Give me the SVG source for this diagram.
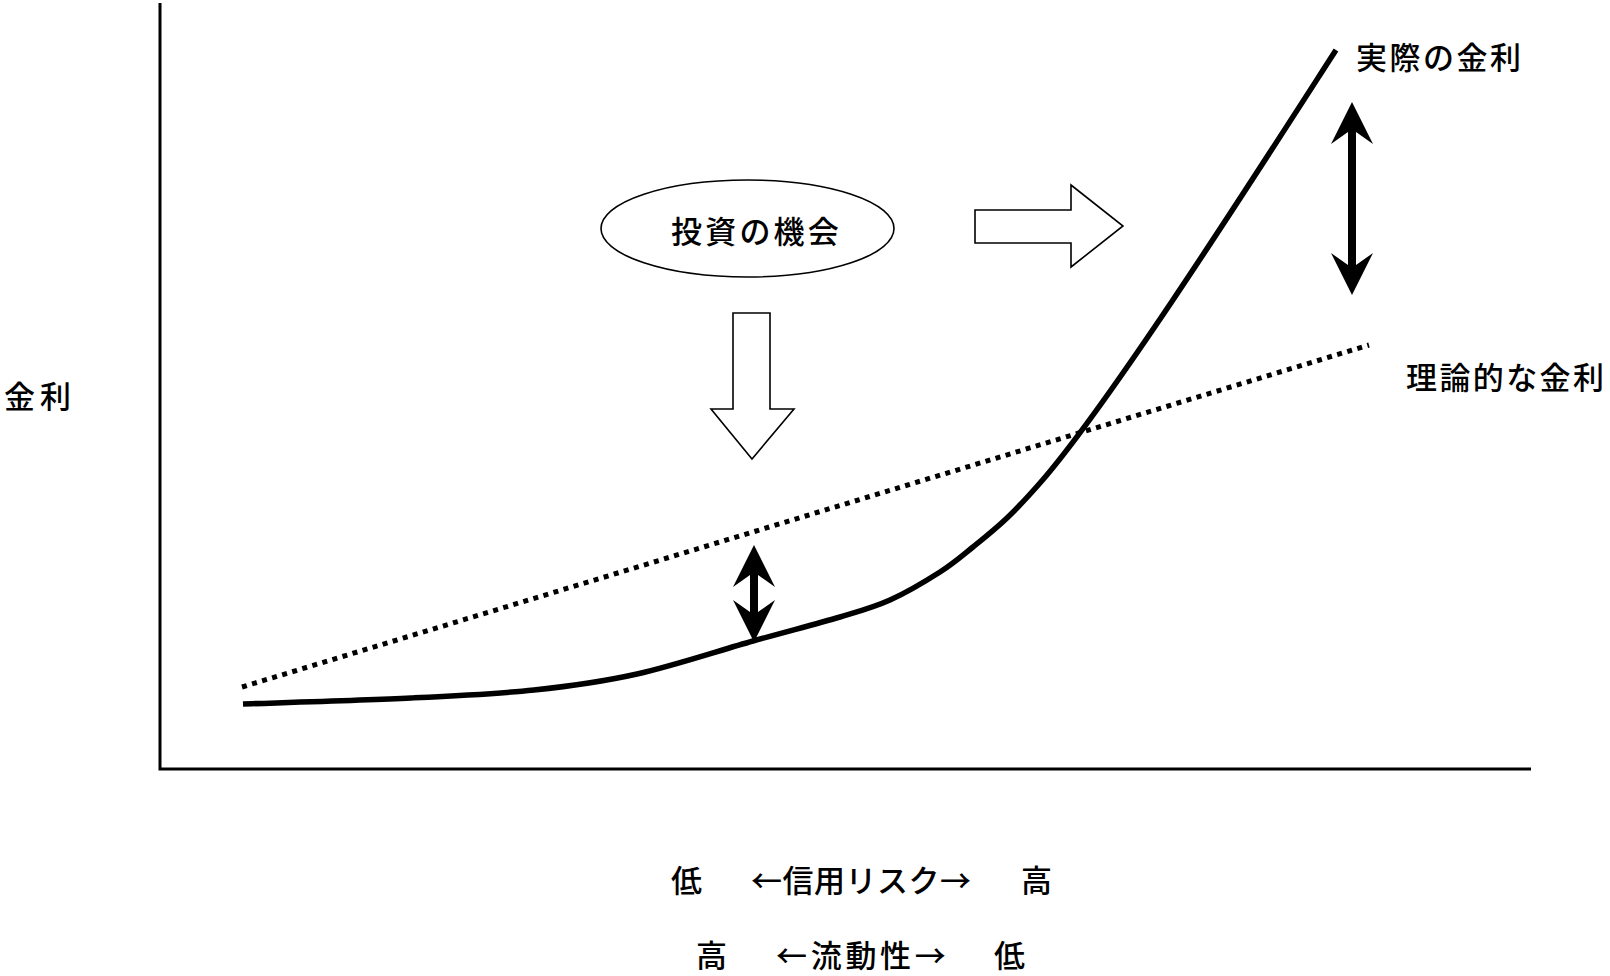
<svg xmlns="http://www.w3.org/2000/svg" width="1610" height="976" viewBox="0 0 1610 976">
<style>
text{font-family:"Noto Sans CJK JP","Noto Sans",sans-serif;font-size:31px;font-weight:500;fill:#000;dominant-baseline:central}
.axis{stroke:#000;stroke-width:3;fill:none}
.block{fill:#fff;stroke:#000;stroke-width:1.6;stroke-linejoin:miter}
.dbl{fill:#000;stroke:none}
</style>
<rect width="1610" height="976" fill="#fff"/>
<g id="axes">
<path class="axis" d="M160,3 L160,769 L1531,769"/>
</g>
<g id="connectors">
<path id="theory-line" d="M242,687 L1369,345" stroke="#000" stroke-width="5" stroke-dasharray="5 5.5" fill="none"/>
<path id="actual-curve" d="M243,704 C271,703 362.5,700.3 411,698 C459.5,695.7 496.3,694 534,690 C571.7,686 600.5,682.2 637,674 C673.5,665.8 719.2,650.5 753,641 C786.8,631.5 817.2,623.8 840,617 C862.8,610.2 873.3,607.5 890,600 C906.7,592.5 926.2,580.8 940,572 C953.8,563.2 961.8,556 973,547 C984.2,538 995.8,528.7 1007,518 C1018.2,507.3 1029,495.5 1040,483 C1110,403 1256,174 1336,50" stroke="#000" stroke-width="5.5" fill="none" stroke-linejoin="round"/>
<path id="big-double-arrow" class="dbl" d="M1352,102 L1373,144 L1356,132 L1356,265 L1373,253 L1352,295 L1331,253 L1348,265 L1348,132 L1331,144 Z"/>
<path id="small-double-arrow" class="dbl" d="M754,545 L775,587 L758,575 L758,612 L775,600 L754,642 L733,600 L750,612 L750,575 L733,587 Z"/>
<path id="down-arrow" class="block" d="M733,313 L770,313 L770,409 L794,409 L752,459 L711,409 L733,409 Z"/>
<path id="right-arrow" class="block" d="M975,210 L1071,210 L1071,185 L1123,226 L1071,267 L1071,243 L975,243 Z"/>
</g>
<g id="node-opportunity">
<ellipse cx="747.5" cy="228.5" rx="146.5" ry="48.5" fill="#fff" stroke="#000" stroke-width="1.6"/>
<text x="671" y="229" letter-spacing="3.2">投資の機会</text>
</g>
<g id="label-actual"><text x="1356" y="55" letter-spacing="2.5">実際の金利</text></g>
<g id="label-theory"><text x="1406" y="375" letter-spacing="2.4">理論的な金利</text></g>
<g id="label-y"><text x="4" y="394" letter-spacing="5">金利</text></g>
<g id="label-x1">
<text x="671" y="878">低</text>
<text x="751" y="878" letter-spacing="0.5">←信用リスク→</text>
<text x="1021" y="878">高</text>
</g>
<g id="label-x2">
<text x="696" y="953">高</text>
<text x="776" y="953" letter-spacing="3.7">←流動性→</text>
<text x="994" y="953">低</text>
</g>
</svg>
